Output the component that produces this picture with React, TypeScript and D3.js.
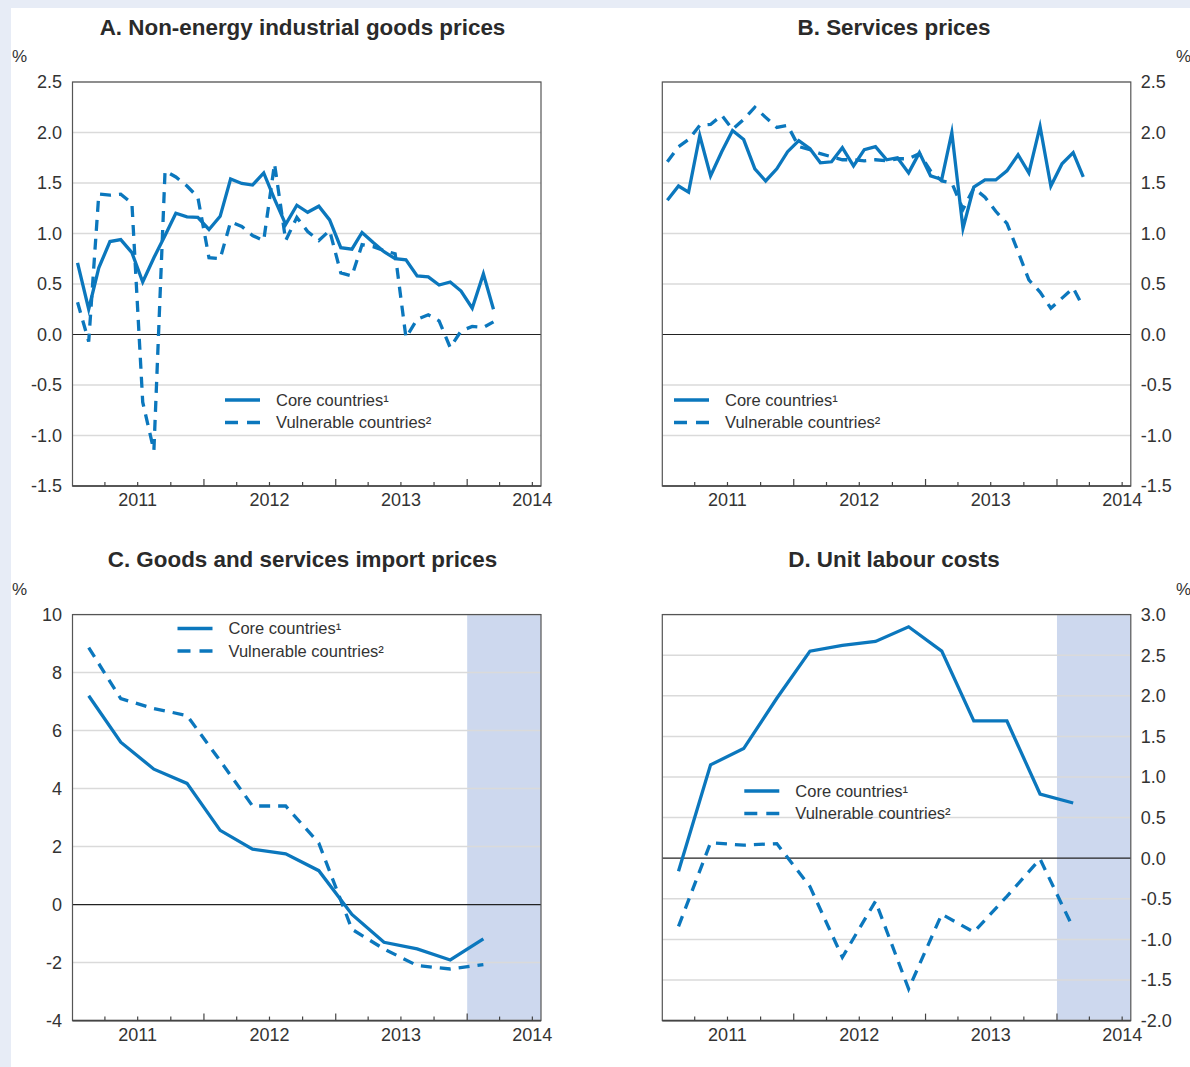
import React from "react";
import * as d3 from "d3";

const W = 1190;
const H = 1067;
const FONT = "'Liberation Sans', Arial, Helvetica, sans-serif";
const BLUE = "#0b77bd";
const TEXT = "#333333";

// ---- data ----
const yearLabels = ["2011", "2012", "2013", "2014"];

// Panel A: monthly, Jan 2011 - Mar 2014
const goodsCore = [0.71, 0.25, 0.66, 0.92, 0.94, 0.81, 0.52, 0.76, 0.98, 1.2, 1.165, 1.16, 1.04, 1.17, 1.54, 1.495, 1.48, 1.6, 1.34, 1.09, 1.28, 1.21, 1.27, 1.135, 0.86, 0.845, 1.01, 0.91, 0.82, 0.75, 0.74, 0.58, 0.57, 0.49, 0.52, 0.43, 0.26, 0.6, 0.25];
const goodsVuln = [0.32, -0.07, 1.39, 1.38, 1.39, 1.3, -0.67, -1.15, 1.62, 1.56, 1.47, 1.36, 0.76, 0.75, 1.115, 1.07, 0.98, 0.93, 1.69, 0.93, 1.16, 1.02, 0.93, 1.03, 0.61, 0.58, 0.89, 0.87, 0.83, 0.8, -0.03, 0.15, 0.195, 0.135, -0.13, 0.035, 0.08, 0.07, 0.125];

// Panel B: monthly, Jan 2011 - Mar 2014
const servCore = [1.33, 1.47, 1.41, 1.97, 1.57, 1.81, 2.02, 1.93, 1.64, 1.52, 1.64, 1.81, 1.92, 1.84, 1.7, 1.71, 1.85, 1.67, 1.83, 1.86, 1.73, 1.75, 1.6, 1.8, 1.57, 1.535, 2.0, 1.05, 1.46, 1.53, 1.53, 1.62, 1.78, 1.6, 2.06, 1.47, 1.69, 1.8, 1.56];
const servVuln = [1.71, 1.86, 1.93, 2.07, 2.08, 2.17, 2.03, 2.13, 2.25, 2.15, 2.05, 2.07, 1.86, 1.83, 1.79, 1.76, 1.73, 1.73, 1.72, 1.73, 1.72, 1.74, 1.74, 1.79, 1.62, 1.52, 1.5, 1.24, 1.45, 1.36, 1.22, 1.1, 0.82, 0.54, 0.42, 0.26, 0.36, 0.46, 0.27];

// Panel C: quarterly, Q1 2011 - Q1 2014
const importCore = [7.2, 5.6, 4.67, 4.18, 2.56, 1.91, 1.75, 1.17, -0.34, -1.3, -1.53, -1.91, -1.18];
const importVuln = [8.86, 7.1, 6.76, 6.52, 4.96, 3.4, 3.4, 2.12, -0.85, -1.53, -2.1, -2.22, -2.07];

// Panel D: quarterly, Q1 2011 - Q1 2014
const ulcCore = [-0.16, 1.15, 1.35, 1.97, 2.55, 2.62, 2.67, 2.85, 2.55, 1.69, 1.69, 0.79, 0.68];
const ulcVuln = [-0.84, 0.19, 0.16, 0.18, -0.35, -1.22, -0.53, -1.61, -0.69, -0.91, -0.47, -0.01, -0.86];

const ticksPrices = [-1.5, -1.0, -0.5, 0, 0.5, 1.0, 1.5, 2.0, 2.5];
const ticksImport = [-4, -2, 0, 2, 4, 6, 8, 10];
const ticksUlc = [-2.0, -1.5, -1.0, -0.5, 0, 0.5, 1.0, 1.5, 2.0, 2.5, 3.0];

const legendLabels = ["Core countries\u00b9", "Vulnerable countries\u00b2"];

type PanelProps = {
  title: string;
  titleX: number;
  titleY: number;
  left: number;
  top: number;
  width: number;
  height: number;
  yDomain: [number, number];
  yTicks: number[];
  decimals: number;
  side: "left" | "right";
  pctX: number;
  pctY: number;
  core: number[];
  vuln: number[];
  freq: "M" | "Q";
  shade: boolean;
  legendX: number;
  legendY: number;
};

function Panel(p: PanelProps) {
  const x = d3
    .scaleTime()
    .domain([new Date(2011, 0, 1), new Date(2014, 6, 25)])
    .range([p.left, p.left + p.width]);
  const y = d3.scaleLinear().domain(p.yDomain).range([p.top + p.height, p.top]);
  const dateOf = (i: number) =>
    p.freq === "M" ? new Date(2011, i, 15) : new Date(2011, 3 * i + 1, 15);
  const line = d3
    .line<number>()
    .x((_, i) => x(dateOf(i)))
    .y((v) => y(v));
  const quarterTicks = d3.timeMonth.every(3)!.range(new Date(2011, 3, 1), new Date(2014, 7, 1));
  const right = p.left + p.width;
  const bottom = p.top + p.height;
  const fmt = (v: number) => (Math.abs(v) < 1e-9 ? (0).toFixed(p.decimals) : v.toFixed(p.decimals));
  const shadeStart = x(new Date(2014, 0, 1));
  return (
    <g>
      <text
        x={p.titleX}
        y={p.titleY}
        textAnchor="middle"
        fontFamily={FONT}
        fontWeight="bold"
        fontSize={22.4}
        fill="#2a2a2a"
      >
        {p.title}
      </text>
      <text x={p.pctX} y={p.pctY} fontFamily={FONT} fontSize={17} fill={TEXT}>
        %
      </text>
      {p.shade && (
        <rect x={shadeStart} y={p.top} width={right - shadeStart} height={p.height} fill="#cdd8ee" />
      )}
      {p.yTicks.map((t) => (
        <line
          key={"g" + t}
          x1={p.left}
          x2={right}
          y1={y(t)}
          y2={y(t)}
          stroke={t === 0 ? "#222" : "#dadada"}
          strokeWidth={t === 0 ? 1.2 : 1.5}
        />
      ))}
      {p.yTicks.map((t) => (
        <text
          key={"t" + t}
          x={p.side === "left" ? p.left - 10.5 : right + 10}
          y={y(t)}
          dy="0.36em"
          textAnchor={p.side === "left" ? "end" : "start"}
          fontFamily={FONT}
          fontSize={18}
          fill={TEXT}
        >
          {fmt(t)}
        </text>
      ))}
      <rect x={p.left} y={p.top} width={p.width} height={p.height} fill="none" stroke="#555" strokeWidth={1.2} />
      <line x1={p.left} x2={right} y1={bottom} y2={bottom} stroke="#444" strokeWidth={1.6} />
      {quarterTicks.map((d) => {
        const long = d.getMonth() === 0;
        return (
          <line
            key={"q" + d.getTime()}
            x1={x(d)}
            x2={x(d)}
            y1={bottom}
            y2={bottom - (long ? 7 : 4)}
            stroke="#444"
            strokeWidth={1.2}
          />
        );
      })}
      {yearLabels.map((yl) => (
        <text
          key={"y" + yl}
          x={x(new Date(+yl, 6, 1))}
          y={bottom + 20}
          textAnchor="middle"
          fontFamily={FONT}
          fontSize={18}
          fill={TEXT}
        >
          {yl}
        </text>
      ))}
      <path d={line(p.vuln) || ""} fill="none" stroke={BLUE} strokeWidth={3.3} strokeDasharray="11,8" strokeLinejoin="miter" />
      <path d={line(p.core) || ""} fill="none" stroke={BLUE} strokeWidth={3.3} strokeLinejoin="miter" strokeMiterlimit={10} />
      <g fontFamily={FONT} fontSize={16.5} fill={TEXT}>
        <line x1={p.legendX} x2={p.legendX + 35} y1={p.legendY} y2={p.legendY} stroke={BLUE} strokeWidth={3.5} />
        <text x={p.legendX + 51} y={p.legendY} dy="0.36em">
          {legendLabels[0]}
        </text>
        <line
          x1={p.legendX}
          x2={p.legendX + 35}
          y1={p.legendY + 22.5}
          y2={p.legendY + 22.5}
          stroke={BLUE}
          strokeWidth={3.5}
          strokeDasharray="13,9"
        />
        <text x={p.legendX + 51} y={p.legendY + 22.5} dy="0.36em">
          {legendLabels[1]}
        </text>
      </g>
    </g>
  );
}

export default function App() {
  const pw = 468.5;
  return (
    <svg
      width={W}
      height={H}
      style={{ position: "absolute", left: 0, top: 0, display: "block" }}
    >
      <rect x={0} y={0} width={W} height={H} fill="#e7ecf6" />
      <rect x={11} y={8} width={W - 11} height={H - 8} fill="#ffffff" />
      <Panel
        title="A. Non-energy industrial goods prices"
        titleX={302.5}
        titleY={35}
        left={72.5}
        top={82}
        width={pw}
        height={404}
        yDomain={[-1.5, 2.5]}
        yTicks={ticksPrices}
        decimals={1}
        side="left"
        pctX={12}
        pctY={62}
        core={goodsCore}
        vuln={goodsVuln}
        freq="M"
        shade={false}
        legendX={225}
        legendY={400}
      />
      <Panel
        title="B. Services prices"
        titleX={894}
        titleY={35}
        left={662.3}
        top={82}
        width={pw}
        height={404}
        yDomain={[-1.5, 2.5]}
        yTicks={ticksPrices}
        decimals={1}
        side="right"
        pctX={1176}
        pctY={62}
        core={servCore}
        vuln={servVuln}
        freq="M"
        shade={false}
        legendX={674}
        legendY={400}
      />
      <Panel
        title="C. Goods and services import prices"
        titleX={302.5}
        titleY={567}
        left={72.5}
        top={614.6}
        width={pw}
        height={406}
        yDomain={[-4, 10]}
        yTicks={ticksImport}
        decimals={0}
        side="left"
        pctX={12}
        pctY={594.5}
        core={importCore}
        vuln={importVuln}
        freq="Q"
        shade={true}
        legendX={177.5}
        legendY={628.4}
      />
      <Panel
        title="D. Unit labour costs"
        titleX={894}
        titleY={567}
        left={662.3}
        top={614.6}
        width={pw}
        height={406}
        yDomain={[-2, 3]}
        yTicks={ticksUlc}
        decimals={1}
        side="right"
        pctX={1176}
        pctY={594.5}
        core={ulcCore}
        vuln={ulcVuln}
        freq="Q"
        shade={true}
        legendX={744.3}
        legendY={791}
      />
    </svg>
  );
}
